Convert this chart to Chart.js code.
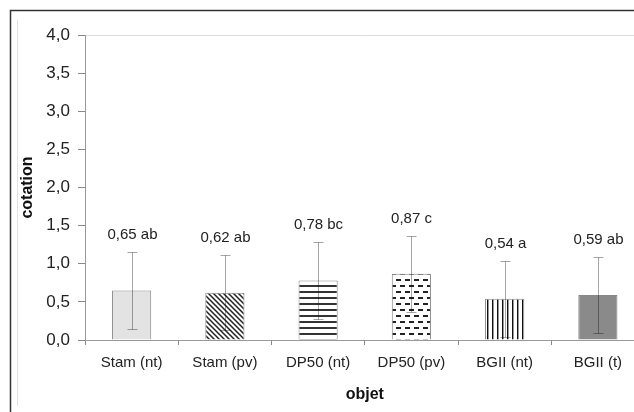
<!DOCTYPE html>
<html>
<head>
<meta charset="utf-8">
<script src="https://cdn.jsdelivr.net/npm/chart.js@4.4.0/dist/chart.umd.min.js"></script>
<style>
  html, body { margin: 0; padding: 0; overflow: hidden; background: #fff; }
  #wrap { width: 660px; height: 412px; }
</style>
</head>
<body>
<div id="wrap"><canvas id="myChart" width="660" height="412"></canvas></div>
<script>
// data
const categories = ['Stam (nt)', 'Stam (pv)', 'DP50 (nt)', 'DP50 (pv)', 'BGII (nt)', 'BGII (t)'];
const means = [0.65, 0.62, 0.78, 0.87, 0.54, 0.59];
const errors = [0.50, 0.49, 0.51, 0.50, 0.50, 0.50];
const letters = ['ab', 'ab', 'bc', 'c', 'a', 'ab'];

const FONT = "'Liberation Sans', Arial, sans-serif";

function makePattern(w, h, draw) {
    const c = document.createElement('canvas');
    c.width = w;
    c.height = h;
    const g = c.getContext('2d');
    g.fillStyle = '#fff';
    g.fillRect(0, 0, w, h);
    draw(g, w, h);
    return c.getContext('2d').createPattern(c, 'repeat');
}

const diagonal = makePattern(5, 5, (g, w, h) => {
    g.strokeStyle = '#222';
    g.lineWidth = 1.5;
    g.beginPath();
    g.moveTo(0, 0); g.lineTo(w, h);
    g.moveTo(-1, h - 1); g.lineTo(1, h + 1);
    g.moveTo(w - 1, -1); g.lineTo(w + 1, 1);
    g.stroke();
});
const horizontal = makePattern(4, 6, (g) => {
    g.fillStyle = '#333';
    g.fillRect(0, 3, 4, 2);
});
const dashed = makePattern(9, 12, (g) => {
    g.fillStyle = '#222';
    g.fillRect(0, 3, 5, 2);
    g.fillRect(4, 9, 5, 2);
});
const vertical = makePattern(5, 4, (g) => {
    g.fillStyle = '#111';
    g.fillRect(2, 0, 1, 4);
    g.fillStyle = '#999';
    g.fillRect(3, 0, 1, 4);
});

const frame = {
    id: 'frame',
    beforeDraw(chart) {
        const ctx = chart.ctx;
        ctx.save();
        ctx.fillStyle = '#fff';
        ctx.fillRect(0, 0, chart.width, chart.height);
        ctx.strokeStyle = '#e2e2e2';
        ctx.lineWidth = 1;
        ctx.beginPath();
        ctx.moveTo(17.5, 20);
        ctx.lineTo(17.5, 406);
        ctx.stroke();
        ctx.strokeStyle = '#333';
        ctx.lineWidth = 1.5;
        ctx.beginPath();
        ctx.moveTo(10.5, chart.height);
        ctx.lineTo(10.5, 10.5);
        ctx.lineTo(chart.width, 10.5);
        ctx.stroke();
        ctx.restore();
    }
};

const errorBars = {
    id: 'errorBars',
    afterDatasetsDraw(chart) {
        const ctx = chart.ctx;
        const x = chart.scales.x;
        const y = chart.scales.y;
        ctx.save();
        ctx.strokeStyle = 'rgba(0,0,0,0.35)';
        ctx.lineWidth = 1;
        ctx.fillStyle = '#222';
        ctx.font = '15px ' + FONT;
        ctx.textAlign = 'center';
        ctx.textBaseline = 'middle';
        means.forEach((m, i) => {
            const cx = Math.round(x.getPixelForValue(i)) + 0.5;
            const top = Math.round(y.getPixelForValue(m + errors[i])) + 0.5;
            const bot = Math.round(y.getPixelForValue(m - errors[i])) + 0.5;
            ctx.beginPath();
            ctx.moveTo(cx, top);
            ctx.lineTo(cx, bot);
            ctx.moveTo(cx - 5, top);
            ctx.lineTo(cx + 5, top);
            ctx.moveTo(cx - 5, bot);
            ctx.lineTo(cx + 5, bot);
            ctx.stroke();
            const label = m.toFixed(2).replace('.', ',') + ' ' + letters[i];
            ctx.fillText(label, cx, top - 18);
        });
        ctx.restore();
    }
};

const canvas = document.getElementById('myChart');
new Chart(canvas, {
    type: 'bar',
    data: {
        labels: categories,
        datasets: [{
            data: means,
            backgroundColor: ['#e3e3e3', diagonal, horizontal, dashed, vertical, '#8a8a8a'],
            borderColor: '#888',
            borderWidth: 1,
            barPercentage: 0.42,
            categoryPercentage: 1
        }]
    },
    options: {
        responsive: false,
        animation: false,
        layout: { padding: { left: 10, top: 35, right: 15.5, bottom: 0 } },
        plugins: {
            legend: { display: false },
            tooltip: { enabled: false }
        },
        scales: {
            x: {
                afterFit: (s) => { s.height = 72; },
                grid: {
                    offset: true,
                    drawOnChartArea: false,
                    tickLength: 5,
                    tickColor: '#888'
                },
                border: { color: '#999' },
                ticks: {
                    color: '#222',
                    padding: 9,
                    font: { family: FONT, size: 15 }
                },
                title: {
                    display: true,
                    text: 'objet',
                    color: '#111',
                    padding: { top: 0, bottom: 8 },
                    font: { family: FONT, size: 16, weight: 'bold' }
                }
            },
            y: {
                min: 0,
                max: 4,
                afterFit: (s) => { s.width = 75; },
                grid: {
                    color: (c) => (c.tick && c.tick.value === 4 ? '#ddd' : 'rgba(0,0,0,0)'),
                    tickColor: '#888',
                    tickLength: 7
                },
                border: { color: '#999' },
                ticks: {
                    stepSize: 0.5,
                    color: '#222',
                    padding: 8,
                    font: { family: FONT, size: 17 },
                    callback: (v) => v.toFixed(1).replace('.', ',')
                },
                title: {
                    display: true,
                    text: 'cotation',
                    color: '#111',
                    padding: { top: 8, bottom: 0 },
                    font: { family: FONT, size: 16, weight: 'bold' }
                }
            }
        }
    },
    plugins: [frame, errorBars]
});
</script>
</body>
</html>
